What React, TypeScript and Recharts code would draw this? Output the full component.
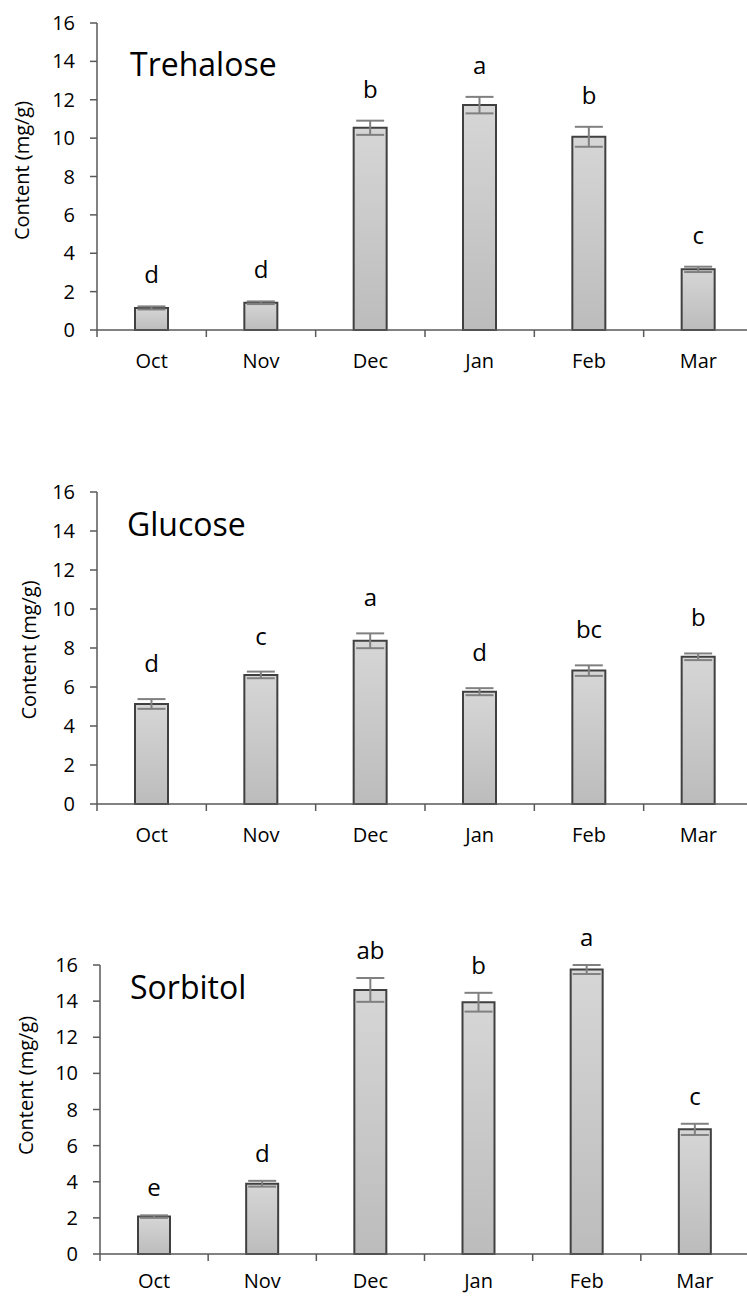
import { ComposedChart, Bar, Line, XAxis, YAxis, ErrorBar, LabelList } from "recharts";

const months = ["Oct", "Nov", "Dec", "Jan", "Feb", "Mar"];
const yTicks = [0, 2, 4, 6, 8, 10, 12, 14, 16];

const trehaloseMean = [1.15, 1.42, 10.54, 11.72, 10.07, 3.16];
const trehaloseErr = [0.08, 0.07, 0.37, 0.43, 0.52, 0.14];
const trehaloseLetters = ["d", "d", "b", "a", "b", "c"];

const glucoseMean = [5.13, 6.62, 8.37, 5.76, 6.84, 7.55];
const glucoseErr = [0.25, 0.17, 0.38, 0.18, 0.27, 0.17];
const glucoseLetters = ["d", "c", "a", "d", "bc", "b"];

const sorbitolMean = [2.07, 3.89, 14.62, 13.94, 15.75, 6.9];
const sorbitolErr = [0.07, 0.16, 0.66, 0.52, 0.25, 0.31];
const sorbitolLetters = ["e", "d", "ab", "b", "a", "c"];

const AXIS = "#595959";
const FONT = "'Open Sans', 'Noto Sans', sans-serif";
const CHART_W = 760;

const buildRows = (means: number[], errs: number[], letters: string[]) =>
  months.map((m, i) => ({
    month: m,
    mean: means[i],
    err: errs[i],
    top: means[i] + errs[i],
    letter: letters[i],
  }));

function MonthTick({ x, y, payload, band, gap }: any) {
  const edge = x - band / 2;
  return (
    <g>
      <line x1={edge} x2={edge} y1={y} y2={y + 7} stroke={AXIS} strokeWidth={1.5} />
      <text x={x} y={y + gap} dy="0.36em" textAnchor="middle" fontSize={20} fill="#000">
        {payload.value}
      </text>
    </g>
  );
}

function AxisTitle({ viewBox, cx, shift }: any) {
  const cy = viewBox.y + viewBox.height / 2 + shift;
  return (
    <text
      x={cx}
      y={cy}
      dy="0.36em"
      textAnchor="middle"
      fontSize={20}
      fill="#000"
      transform={`rotate(-90, ${cx}, ${cy})`}
    >
      Content (mg/g)
    </text>
  );
}

interface PanelProps {
  id: string;
  rows: ReturnType<typeof buildRows>;
  top: number;
  height: number;
  margin: { top: number; right: number; bottom: number; left: number };
  yWidth: number;
  barSize: number;
  letterOffset: number;
  monthGap: number;
  titleX: number;
  titleShift: number;
}

function Panel({
  id,
  rows,
  top,
  height,
  margin,
  yWidth,
  barSize,
  letterOffset,
  monthGap,
  titleX,
  titleShift,
}: PanelProps) {
  const band = (CHART_W - margin.left - margin.right - yWidth) / months.length;
  return (
    <div style={{ position: "absolute", left: 0, top }}>
      <ComposedChart width={CHART_W} height={height} data={rows} margin={margin}>
        <defs>
          <linearGradient id={`fill-${id}`} x1="0" y1="0" x2="0" y2="1">
            <stop offset="0%" stopColor="#d6d6d6" />
            <stop offset="100%" stopColor="#bcbcbc" />
          </linearGradient>
        </defs>
        <XAxis
          dataKey="month"
          height={30}
          stroke={AXIS}
          strokeWidth={1.5}
          tickLine={false}
          tickSize={0}
          tickMargin={0}
          interval={0}
          tick={<MonthTick band={band} gap={monthGap} />}
        />
        <YAxis
          width={yWidth}
          domain={[0, 16]}
          ticks={yTicks}
          interval={0}
          stroke={AXIS}
          strokeWidth={1.5}
          tickSize={7}
          tickMargin={15}
          tick={{ fill: "#000", fontSize: 20 }}
          label={<AxisTitle cx={titleX} shift={titleShift} />}
        />
        <Bar
          dataKey="mean"
          barSize={barSize}
          fill={`url(#fill-${id})`}
          stroke="#404040"
          strokeWidth={2}
          isAnimationActive={false}
        >
          <ErrorBar dataKey="err" width={14} stroke="#808080" strokeWidth={2} direction="y" />
        </Bar>
        <Line dataKey="top" stroke="none" dot={false} activeDot={false} isAnimationActive={false}>
          <LabelList dataKey="letter" position="top" offset={letterOffset} fontSize={24} fill="#000" />
        </Line>
      </ComposedChart>
    </div>
  );
}

const titles = [
  { text: "Trehalose", x: 130, y: 76 },
  { text: "Glucose", x: 127, y: 536 },
  { text: "Sorbitol", x: 130, y: 999 },
];

export default function App() {
  return (
    <div
      style={{
        position: "absolute",
        left: 0,
        top: 0,
        width: 747,
        height: 1296,
        overflow: "hidden",
        background: "#fff",
        fontFamily: FONT,
      }}
    >
      <Panel
        id="tre"
        rows={buildRows(trehaloseMean, trehaloseErr, trehaloseLetters)}
        top={0}
        height={440}
        margin={{ top: 23, right: 7, bottom: 80, left: 0 }}
        yWidth={97}
        barSize={33}
        letterOffset={23}
        monthGap={31}
        titleX={22}
        titleShift={-6}
      />
      <Panel
        id="glu"
        rows={buildRows(glucoseMean, glucoseErr, glucoseLetters)}
        top={440}
        height={460}
        margin={{ top: 52, right: 7, bottom: 66, left: 0 }}
        yWidth={97}
        barSize={33}
        letterOffset={27}
        monthGap={31}
        titleX={29}
        titleShift={2}
      />
      <Panel
        id="sor"
        rows={buildRows(sorbitolMean, sorbitolErr, sorbitolLetters)}
        top={900}
        height={396}
        margin={{ top: 65, right: 11, bottom: 12, left: 0 }}
        yWidth={100}
        barSize={32}
        letterOffset={19}
        monthGap={27}
        titleX={26}
        titleShift={-24}
      />
      <svg
        width={747}
        height={1296}
        style={{ position: "absolute", left: 0, top: 0, pointerEvents: "none" }}
      >
        {titles.map((t) => (
          <text key={t.text} x={t.x} y={t.y} fontSize={32} fill="#000" fontFamily={FONT}>
            {t.text}
          </text>
        ))}
      </svg>
    </div>
  );
}
